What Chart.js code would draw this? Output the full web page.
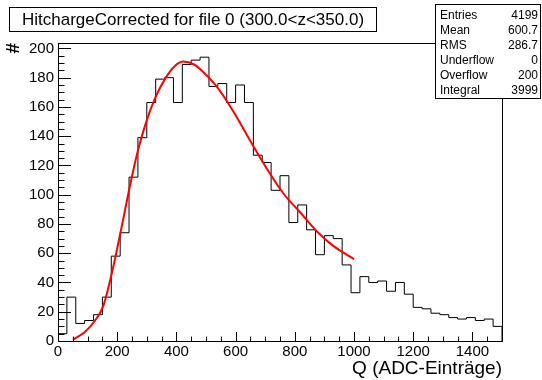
<!DOCTYPE html>
<html>
<head>
<meta charset="UTF-8">
<title>HitchargeCorrected</title>
<script src="https://cdn.jsdelivr.net/npm/chart.js"></script>
<style>
  body { margin: 0; background: #fff; }
  canvas { display: block; }
</style>
</head>
<body>
<canvas id="hist" width="542" height="380"></canvas>
<script>
  const titleText = "HitchargeCorrected for file 0 (300.0<z<350.0)";
  const xTitle = "Q (ADC-Einträge)";
  const yTitle = "#";

  // 50 bins of width 30 from 0 to 1500
  const binLow = 0;
  const binWidth = 30;
  const counts = [5, 30, 12, 14, 18, 30, 58, 74, 112, 139,
                  163, 179, 180, 163, 189, 192, 194, 174, 176, 163,
                  175, 163, 127, 122, 103, 113, 81, 93, 76, 59,
                  72, 70, 52, 33, 44, 40, 41, 34, 40, 32,
                  23, 22, 19, 18, 16, 15, 16, 14, 15, 10];

  // fit curve
  const fitX = [50, 90, 125, 153, 187, 215, 243, 271, 300, 328, 361, 395, 423, 460, 480, 536, 592, 649, 705, 761, 818, 874, 930, 1000];
  const fitY = [1, 6, 14, 24, 51, 78, 106, 131, 151, 166, 179, 188, 191, 189, 186, 174, 157, 137, 118, 101, 88, 75, 65, 56];

  const xTicks = [0, 200, 400, 600, 800, 1000, 1200, 1400];
  const yTicks = [0, 20, 40, 60, 80, 100, 120, 140, 160, 180, 200];
  const xMax = 1500;
  const yMax = 203.7;

  const statNames = ["Entries", "Mean", "RMS", "Underflow", "Overflow", "Integral"];
  const statValues = ["4199", "600.7", "286.7", "0", "200", "3999"];

  const font = "Liberation Sans, Arial, Helvetica, sans-serif";

  const histPoints = [{ x: binLow, y: 0 }];
  counts.forEach((c, i) => histPoints.push({ x: binLow + i * binWidth, y: c }));
  const binHigh = binLow + counts.length * binWidth;
  histPoints.push({ x: binHigh, y: counts[counts.length - 1] });
  histPoints.push({ x: binHigh, y: 0 });

  const fitPoints = fitX.map((x, i) => ({ x: x, y: fitY[i] }));

  // ROOT-like frame, inward ticks, title box and stats box
  const rootStyle = {
    id: "rootStyle",
    afterDatasetsDraw(chart) {
      const { ctx, chartArea: a, scales: { x, y } } = chart;
      ctx.save();
      ctx.strokeStyle = "#000";
      ctx.lineWidth = 1;
      ctx.strokeRect(Math.round(a.left) + 0.5, Math.round(a.top) + 0.5,
                     Math.round(a.right - a.left), Math.round(a.bottom - a.top));
      ctx.beginPath();
      for (let v = 0; v <= yMax; v += 5) {
        const py = Math.round(y.getPixelForValue(v)) + 0.5;
        const len = v % 20 === 0 ? 13 : 6.5;
        ctx.moveTo(a.left, py);
        ctx.lineTo(a.left + len, py);
      }
      for (let v = 0; v <= xMax; v += 50) {
        const px = Math.round(x.getPixelForValue(v)) + 0.5;
        const len = v % 200 === 0 ? 9 : 4.5;
        ctx.moveTo(px, a.bottom);
        ctx.lineTo(px, a.bottom - len);
      }
      ctx.stroke();
      ctx.restore();
    },
    afterDraw(chart) {
      const ctx = chart.ctx;
      ctx.save();
      ctx.strokeStyle = "#000";
      ctx.lineWidth = 1;
      ctx.fillStyle = "#fff";

      // title box
      ctx.fillRect(9.5, 7.5, 367, 24);
      ctx.strokeRect(9.5, 7.5, 367, 24);
      ctx.fillStyle = "#000";
      ctx.font = "17px " + font;
      ctx.textAlign = "center";
      ctx.textBaseline = "middle";
      ctx.fillText(titleText, 193, 20);

      // stats box
      ctx.fillStyle = "#fff";
      ctx.fillRect(435.5, 4.5, 105, 94);
      ctx.strokeRect(435.5, 4.5, 105, 94);
      ctx.fillStyle = "#000";
      ctx.font = "12px " + font;
      statNames.forEach((n, i) => {
        const ty = 16 + i * 15;
        ctx.textAlign = "left";
        ctx.fillText(n, 440, ty);
        ctx.textAlign = "right";
        ctx.fillText(statValues[i], 538, ty);
      });
      ctx.restore();
    }
  };

  new Chart(document.getElementById("hist"), {
    type: "line",
    data: {
      datasets: [
        {
          data: fitPoints,
          borderColor: "#ff0000",
          borderWidth: 2,
          pointRadius: 0,
          fill: false,
          cubicInterpolationMode: "monotone",
          order: 0
        },
        {
          data: histPoints,
          borderColor: "#000",
          borderWidth: 1,
          pointRadius: 0,
          fill: false,
          stepped: true,
          order: 1
        }
      ]
    },
    options: {
      responsive: false,
      animation: false,
      layout: { padding: { top: 43, right: 40, left: 0, bottom: 0 } },
      plugins: { legend: { display: false }, tooltip: { enabled: false } },
      scales: {
        x: {
          type: "linear",
          min: 0,
          max: xMax,
          afterBuildTicks: s => { s.ticks = xTicks.map(v => ({ value: v })); },
          afterFit: s => { s.height = 39; },
          grid: { display: false, drawTicks: false },
          border: { display: false },
          ticks: { color: "#000", font: { family: font, size: 15 }, padding: 2, maxRotation: 0,
                   autoSkip: false, callback: v => String(v) },
          title: { display: true, text: xTitle, align: "end", color: "#000",
                   font: { family: font, size: 19 }, padding: { top: 0, bottom: 0 } }
        },
        y: {
          type: "linear",
          min: 0,
          max: yMax,
          afterBuildTicks: s => { s.ticks = yTicks.map(v => ({ value: v })); },
          afterFit: s => { s.width = 58; },
          grid: { display: false, drawTicks: false },
          border: { display: false },
          ticks: { color: "#000", font: { family: font, size: 15 }, padding: 4,
                   autoSkip: false, callback: v => String(v) },
          title: { display: true, text: yTitle, align: "end", color: "#000",
                   font: { family: font, size: 19, weight: "bold" }, padding: { top: 2, bottom: 0 } }
        }
      }
    },
    plugins: [rootStyle]
  });
</script>
</body>
</html>
